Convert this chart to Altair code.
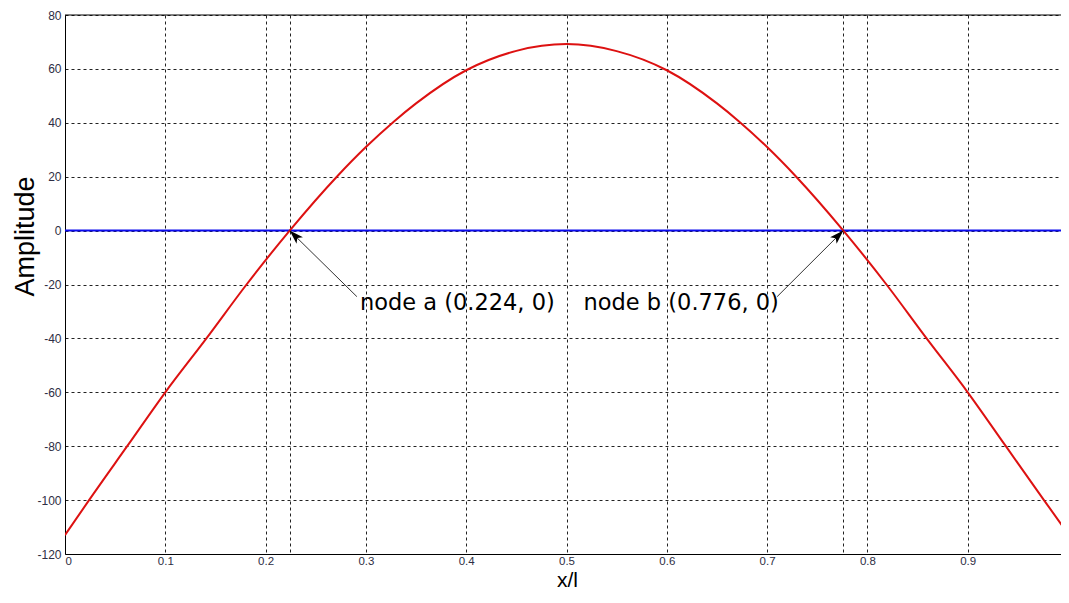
import math
import altair as alt
import pandas as pd

# ---- data ----
x_pos = [0.0, 0.024, 0.062, 0.100, 0.141, 0.181, 0.224, 0.271, 0.300, 0.328, 0.350,
         0.400, 0.450, 0.500, 0.550, 0.600, 0.650, 0.672, 0.700, 0.729, 0.776,
         0.819, 0.859, 0.900, 0.938, 0.976, 1.0]
amplitude = [-113.0, -100.0, -80.0, -60.0, -40.0, -20.0, 0.0, 20.0, 31.0, 40.5, 47.2,
             59.5, 66.7, 69.2, 66.6, 59.5, 47.2, 40.5, 31.0, 20.0, 0.0,
             -20.0, -40.0, -60.0, -80.0, -100.0, -112.5]
zero_line = [0]
top_edge = [80]
x_ticks = [0, 0.1, 0.2, 0.3, 0.4, 0.5, 0.6, 0.7, 0.8, 0.9]
y_ticks = [-120, -100, -80, -60, -40, -20, 0, 20, 40, 60, 80]
node_x = [0.224, 0.776]
node_y = [0, 0]
node_labels = ["node a (0.224, 0)", "node b (0.776, 0)"]
label_x = [0.294, 0.517]
label_y = [-29.5, -29.5]
arrow_start_x = [0.291, 0.710]
arrow_start_y = [-24.5, -24.5]

# ---- layout ----
W, H = 996, 539
X_DOM = [0, 0.993]          # the reference crops the axis just before x = 1
Y_DOM = [-120, 80]
px_per_x = W / (X_DOM[1] - X_DOM[0])
px_per_y = H / (Y_DOM[1] - Y_DOM[0])

xs = alt.Scale(domain=X_DOM, nice=False, zero=False)
ys = alt.Scale(domain=Y_DOM, nice=False, zero=False)

LABEL_FONT = "Liberation Sans"
LABEL_COLOR = "#2e2e44"

x_axis = alt.Axis(
    values=x_ticks + node_x,
    labelExpr="(datum.value == 0.224 || datum.value == 0.776) ? '' : toString(datum.value)",
    grid=True, gridDash=[3, 3], gridColor="#222222", gridOpacity=1, gridWidth=1,
    ticks=False, domainColor="black", domainWidth=1,
    labelFont=LABEL_FONT, labelFontSize=11.5, labelColor=LABEL_COLOR, labelPadding=1,
    titleFont=LABEL_FONT, titleFontSize=21, titleFontWeight="normal", titleColor="black",
    titleX=502, titleY=32.5, titleAlign="center", titleBaseline="alphabetic",
)
y_axis = alt.Axis(
    values=y_ticks,
    labelExpr="toString(datum.value)",
    grid=True, gridDash=[3, 3], gridColor="#222222", gridOpacity=1, gridWidth=1,
    ticks=False, domainColor="black", domainWidth=1,
    labelFont=LABEL_FONT, labelFontSize=12, labelColor=LABEL_COLOR, labelPadding=4,
    titleFont=LABEL_FONT, titleFontSize=27, titleFontWeight="normal", titleColor="black",
    titleX=-40, titleY=221, titleAngle=270, titleAlign="center", titleBaseline="middle",
)


def X(field):
    return alt.X(field, type="quantitative", scale=xs, axis=x_axis, title="x/l")


def Y(field):
    return alt.Y(field, type="quantitative", scale=ys, axis=y_axis, title="Amplitude")


curve_df = pd.DataFrame({"x": x_pos, "y": amplitude})

curve = alt.Chart(curve_df).mark_line(
    color="#dd1111", strokeWidth=2, interpolate="monotone", clip=True
).encode(x=X("x"), y=Y("y"))

zero = alt.Chart(pd.DataFrame({"y": zero_line})).mark_rule(
    color="#0a0aee", strokeWidth=2
).encode(y=Y("y"))

top = alt.Chart(pd.DataFrame({"y": top_edge})).mark_rule(
    color="black", strokeWidth=1
).encode(y=Y("y"))

# arrow direction in screen space (degrees clockwise from up)
angles = []
for sx, sy, tx, ty in zip(arrow_start_x, arrow_start_y, node_x, node_y):
    dx = (tx - sx) * px_per_x
    dy = -(ty - sy) * px_per_y
    angles.append(math.degrees(math.atan2(dx, -dy)) % 360)

ann_df = pd.DataFrame({
    "nx": node_x, "ny": node_y, "sx": arrow_start_x, "sy": arrow_start_y,
    "lx": label_x, "ly": label_y, "label": node_labels, "ang": angles,
})

arrow_lines = alt.Chart(ann_df).mark_rule(color="#333333", strokeWidth=1).encode(
    x=X("sx"), y=Y("sy"), x2="nx:Q", y2="ny:Q",
)

HEAD = "M0,0 L-0.75,2.3 L0,1.75 L0.75,2.3 Z"
arrow_heads = alt.Chart(ann_df).mark_point(
    shape=HEAD, filled=True, size=150, color="black", opacity=1, strokeWidth=0
).encode(
    x=X("nx"), y=Y("ny"),
    angle=alt.Angle("ang:Q", scale=None),
)

labels = alt.Chart(ann_df).mark_text(
    align="left", baseline="alphabetic", font="DejaVu Sans", fontSize=22.5, color="black"
).encode(
    x=X("lx"), y=Y("ly"), text="label:N",
)

chart = alt.layer(zero, curve, top, arrow_lines, arrow_heads, labels).properties(
    width=W, height=H,
    autosize=alt.AutoSizeParams(type="none"),
    padding={"left": 57, "top": 7, "right": 0, "bottom": 37},
    background="white",
).configure_view(stroke=None)

chart.save("out.html", embed_options={"renderer": "svg", "actions": False})
